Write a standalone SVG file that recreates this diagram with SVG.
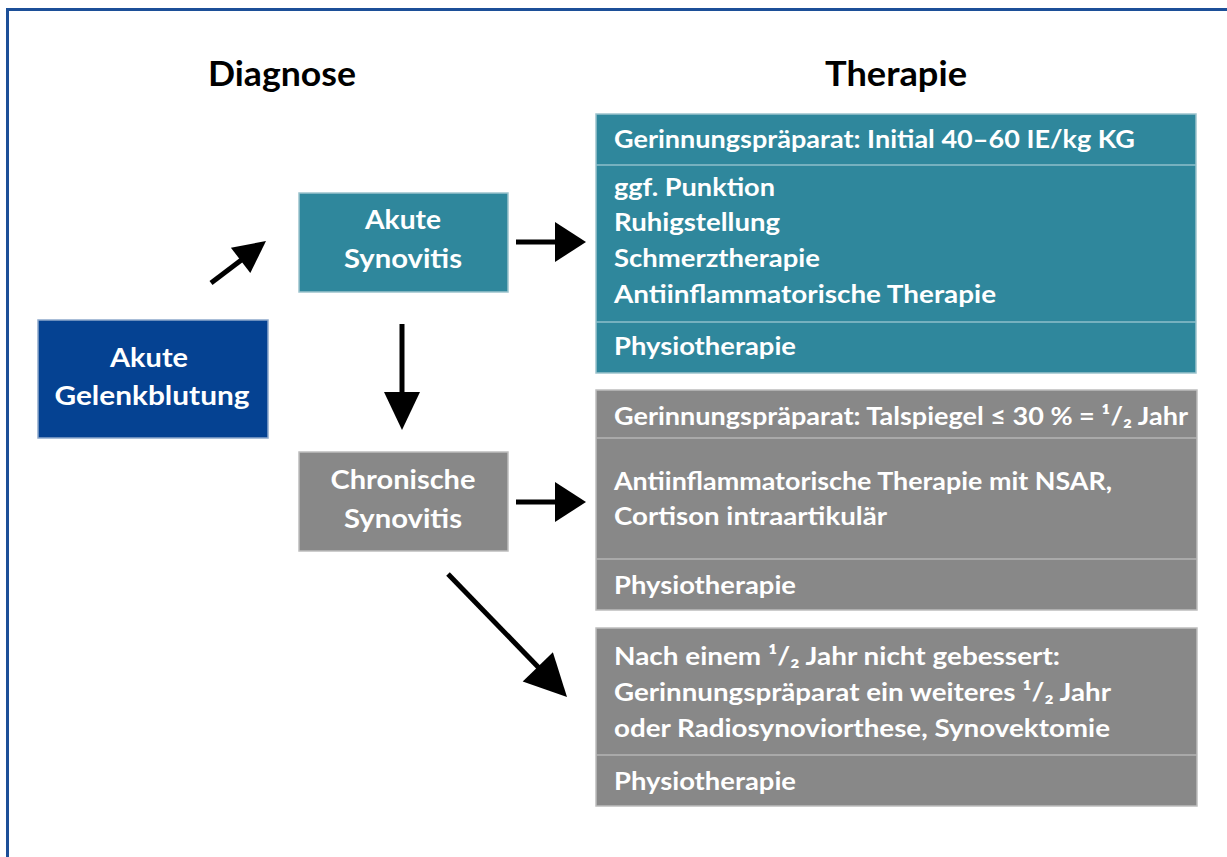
<svg xmlns="http://www.w3.org/2000/svg" width="1227" height="857" viewBox="0 0 1227 857">
<style>
.t{font-family:Lato,"Open Sans","Liberation Sans",sans-serif;font-weight:bold;fill:#fff;font-size:24px}
.n{font-size:26px}
.c{text-anchor:middle}
.h{font-family:Lato,"Open Sans","Liberation Sans",sans-serif;font-weight:bold;fill:#000;font-size:34px}
.teal{fill:#2f879c;stroke:#9cc3cd;stroke-width:1.5}
.gray{fill:#888888;stroke:#bdbdbd;stroke-width:1.5}
.blue{fill:#054292;stroke:#8ea9cc;stroke-width:1.5}
.dt{stroke:#8fbfcb;stroke-width:1.5}
.dg{stroke:#b5b5b5;stroke-width:1.5}
.sh{stroke:#000;stroke-width:5;fill:none}
.ah{fill:#000}
</style>
<rect width="1227" height="857" fill="#fff"/>
<path d="M7.5 857 V9.5 H1227" fill="none" stroke="#1c4f98" stroke-width="3"/>
<g id="titles">
<text class="h" x="208" y="86" textLength="148" lengthAdjust="spacingAndGlyphs">Diagnose</text>
<text class="h" x="825" y="86" textLength="142" lengthAdjust="spacingAndGlyphs">Therapie</text>
</g>
<g id="n-gelenkblutung">
<rect class="blue" x="38" y="320" width="230" height="118"/>
<text class="t n c" x="149" y="367" textLength="78" lengthAdjust="spacingAndGlyphs">Akute</text>
<text class="t n c" x="152" y="405" textLength="195" lengthAdjust="spacingAndGlyphs">Gelenkblutung</text>
</g>
<g id="n-akute-synovitis">
<rect class="teal" x="299" y="193" width="209" height="99"/>
<text class="t n c" x="403" y="229" textLength="76" lengthAdjust="spacingAndGlyphs">Akute</text>
<text class="t n c" x="403" y="268" textLength="118" lengthAdjust="spacingAndGlyphs">Synovitis</text>
</g>
<g id="n-chronische-synovitis">
<rect class="gray" x="299" y="452" width="209" height="99"/>
<text class="t n c" x="403" y="489" textLength="145" lengthAdjust="spacingAndGlyphs">Chronische</text>
<text class="t n c" x="403" y="528" textLength="118" lengthAdjust="spacingAndGlyphs">Synovitis</text>
</g>
<g id="n-therapie-akut">
<rect class="teal" x="596" y="114" width="600" height="259"/>
<line class="dt" x1="596" y1="165" x2="1196" y2="165"/>
<line class="dt" x1="596" y1="322" x2="1196" y2="322"/>
<text class="t" x="614" y="148" textLength="521" lengthAdjust="spacingAndGlyphs">Gerinnungspräparat: Initial 40–60 IE/kg KG</text>
<text class="t" x="614" y="196" textLength="161" lengthAdjust="spacingAndGlyphs">ggf. Punktion</text>
<text class="t" x="614" y="231" textLength="166" lengthAdjust="spacingAndGlyphs">Ruhigstellung</text>
<text class="t" x="614" y="267" textLength="206" lengthAdjust="spacingAndGlyphs">Schmerztherapie</text>
<text class="t" x="614" y="303" textLength="382" lengthAdjust="spacingAndGlyphs">Antiinflammatorische Therapie</text>
<text class="t" x="614" y="355" textLength="182" lengthAdjust="spacingAndGlyphs">Physiotherapie</text>
</g>
<g id="n-therapie-chronisch">
<rect class="gray" x="596" y="390" width="601" height="220"/>
<line class="dg" x1="596" y1="438" x2="1197" y2="438"/>
<line class="dg" x1="596" y1="559" x2="1197" y2="559"/>
<text class="t" x="614" y="425" textLength="574" lengthAdjust="spacingAndGlyphs">Gerinnungspräparat: Talspiegel ≤ 30 % = ¹/₂ Jahr</text>
<text class="t" x="614" y="490" textLength="498" lengthAdjust="spacingAndGlyphs">Antiinflammatorische Therapie mit NSAR,</text>
<text class="t" x="614" y="525" textLength="273" lengthAdjust="spacingAndGlyphs">Cortison intraartikulär</text>
<text class="t" x="614" y="594" textLength="182" lengthAdjust="spacingAndGlyphs">Physiotherapie</text>
</g>
<g id="n-therapie-weiter">
<rect class="gray" x="596" y="628" width="601" height="178"/>
<line class="dg" x1="596" y1="755" x2="1197" y2="755"/>
<text class="t" x="614" y="665" textLength="446" lengthAdjust="spacingAndGlyphs">Nach einem ¹/₂ Jahr nicht gebessert:</text>
<text class="t" x="614" y="701" textLength="497" lengthAdjust="spacingAndGlyphs">Gerinnungspräparat ein weiteres ¹/₂ Jahr</text>
<text class="t" x="614" y="737" textLength="496" lengthAdjust="spacingAndGlyphs">oder Radiosynoviorthese, Synovektomie</text>
<text class="t" x="614" y="790" textLength="182" lengthAdjust="spacingAndGlyphs">Physiotherapie</text>
</g>
<g id="connectors">
<line class="sh" x1="211" y1="283" x2="244" y2="258"/>
<polygon class="ah" points="266,241 250.3,273.1 230.9,247.7"/>
<line class="sh" x1="516" y1="242" x2="558" y2="242"/>
<polygon class="ah" points="586,242 555,222 555,262"/>
<line class="sh" x1="402" y1="324" x2="402" y2="395"/>
<polygon class="ah" points="402,430 384,392 420,392"/>
<line class="sh" x1="516" y1="502" x2="558" y2="502"/>
<polygon class="ah" points="586,502 555,482 555,522"/>
<line class="sh" x1="448" y1="574" x2="541" y2="670"/>
<polygon class="ah" points="567,697 522.7,681.4 552.9,652.2"/>
</g>
</svg>
